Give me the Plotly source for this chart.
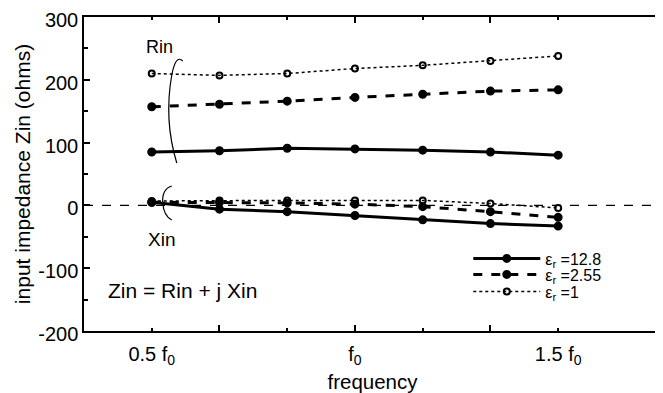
import plotly.graph_objects as go

freq = [0.5, 2/3, 5/6, 1.0, 7/6, 4/3, 1.5]
freq_ticks = [0.5, 1.0, 1.5]
freq_ticktext = ["0.5 f<sub>0</sub>", "f<sub>0</sub>", "1.5 f<sub>0</sub>"]
imp_ticks = [-200, -100, 0, 100, 200, 300]
imp_ticktext = ["-200", "-100", "0", "100", "200", "300"]

rin_128 = [85, 87, 91, 90, 88, 85, 80]
rin_255 = [157, 161, 166, 172, 177, 182, 184]
rin_1 = [210, 207, 210, 218, 223, 230, 238]

xin_128 = [5, -6, -10, -16, -23, -29, -33]
xin_255 = [5, 5, 4, 2, -2, -10, -19]
xin_1 = [7, 8, 8, 8, 8, 3, -4]

series = [
    ("ε<sub>r</sub> =12.8", rin_128, xin_128, "solid", 3, "circle", 7, "legend"),
    ("ε<sub>r</sub> =2.55", rin_255, xin_255, "dash", 3, "circle", 7, "legend2"),
    ("ε<sub>r</sub> =1", rin_1, xin_1, "dot", 1.5, "circle-open", 6, "legend3"),
]

FONT = "Liberation Sans, Arial, sans-serif"
fig = go.Figure()
for name, rin, xin, dash, w, sym, ms, lg in series:
    for i, vals in enumerate((rin, xin)):
        fig.add_trace(go.Scatter(
            x=freq, y=vals, mode="lines+markers", name=name,
            legendgroup=name, showlegend=(i == 0), legend=lg,
            line=dict(color="black", dash=dash, width=w),
            marker=dict(symbol=sym, size=ms, color="black",
                        line=dict(color="black", width=2)),
        ))

# invisible trace on the overlay axis so that it gets drawn
fig.add_trace(go.Scatter(x=[0.5], y=[0], xaxis="x2", mode="markers",
                         marker=dict(opacity=0), showlegend=False, hoverinfo="skip"))

# zero reference line
fig.add_shape(type="line", xref="paper", x0=0, x1=1, yref="y", y0=0, y1=0,
              line=dict(color="black", width=1.2, dash="dash"), layer="below")

def X(px):
    return 0.5 + (px - 152) / 406.2

def Y(py):
    return (205.4 - py) / 0.628

rin_br = (f"M {X(183)} {Y(61)} Q {X(176)} {Y(54)} {X(172)} {Y(75)} "
          f"Q {X(164)} {Y(120)} {X(177)} {Y(163)}")
xin_br = (f"M {X(172)} {Y(186)} Q {X(162)} {Y(189)} {X(163)} {Y(203)} "
          f"Q {X(164)} {Y(216)} {X(172)} {Y(220)}")
for p in (rin_br, xin_br):
    fig.add_shape(type="path", path=p, xref="x", yref="y",
                  line=dict(color="black", width=1.2))

fig.add_annotation(x=X(160), y=Y(47), text="Rin", showarrow=False,
                   font=dict(size=18, color="black", family=FONT))
fig.add_annotation(x=X(162), y=Y(239), text="Xin", showarrow=False,
                   font=dict(size=19, color="black", family=FONT))
fig.add_annotation(x=X(106), y=Y(290), text="Zin = Rin + j Xin", showarrow=False,
                   xanchor="left", font=dict(size=21, color="black", family=FONT))

leg_common = dict(x=0.666, xanchor="left", yanchor="top", bgcolor="rgba(0,0,0,0)",
                  font=dict(size=16), itemwidth=67, tracegroupgap=0)

fig.update_layout(
    width=663, height=393,
    margin=dict(l=76, r=10, t=9, b=70),
    paper_bgcolor="white", plot_bgcolor="white",
    font=dict(family=FONT, color="black", size=20),
    showlegend=True,
    legend=dict(y=0.285, **leg_common),
    legend2=dict(y=0.234, **leg_common),
    legend3=dict(y=0.180, **leg_common),
    xaxis=dict(range=[0.3333, 1.753], tickvals=freq_ticks, ticktext=freq_ticktext,
               ticks="", showgrid=False, zeroline=False, showline=True,
               linecolor="black", linewidth=1.5, mirror=True, automargin=False,
               ticklabelstandoff=4, ticklabeloverflow="allow",
               title=dict(text="frequency", standoff=8, font=dict(size=20.5)),
               tickfont=dict(size=20)),
    xaxis2=dict(overlaying="x", matches="x", side="bottom", showticklabels=False,
                tickvals=[2/3, 1.0, 4/3], ticks="inside", ticklen=6, tickwidth=1.5,
                tickcolor="black", mirror="ticks", showgrid=False, zeroline=False,
                showline=False, automargin=False,
                minor=dict(tickmode="array", tickvals=[0.5, 5/6, 7/6, 1.5],
                           ticks="inside", ticklen=3, tickwidth=1.5, tickcolor="black",
                           showgrid=False)),
    yaxis=dict(range=[-200, 300], tickvals=imp_ticks, ticktext=imp_ticktext,
               ticks="inside", ticklen=6, tickwidth=1.5,
               tickcolor="black", showgrid=False, zeroline=False, showline=True,
               linecolor="black", linewidth=1.5, mirror="ticks", automargin=False,
               ticklabeloverflow="allow", ticklabelshift=3,
               minor=dict(tickmode="array", tickvals=[-150, -50, 50, 150, 250],
                          ticks="inside", ticklen=4, tickwidth=1.5,
                          tickcolor="black", showgrid=False),
               title=dict(text="input impedance Zin (ohms)", standoff=2, font=dict(size=21)),
               tickfont=dict(size=20)),
)

fig.write_html("out.html")
